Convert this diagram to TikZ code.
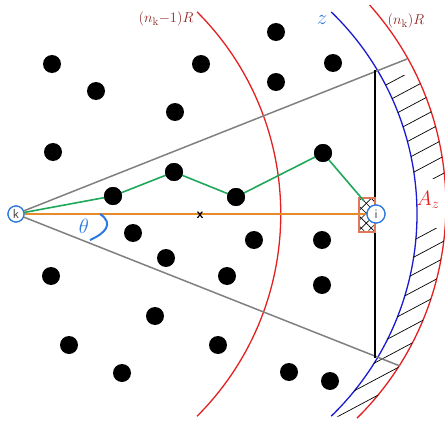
\documentclass[tikz,border=0pt]{standalone}
\usetikzlibrary{patterns.meta}
\definecolor{arcred}{HTML}{E52020}
\definecolor{arcblue}{HTML}{1A1AD0}
\definecolor{nodeblue}{HTML}{2A78E0}
\definecolor{labred}{HTML}{8E2424}
\definecolor{linkgreen}{HTML}{1EA85A}
\definecolor{linkorange}{HTML}{E88A2A}
\definecolor{boxred}{HTML}{E0765A}
\begin{document}
\begin{tikzpicture}[x=1pt,y=-1pt,
		nodept/.style = {circle, fill=black, inner sep=0pt, minimum size=18pt},
		endpt/.style = {circle, draw=nodeblue, fill=white, line width=1.2pt,
			inner sep=0pt, minimum size=16pt, font=\sffamily\fontsize{13}{14}\selectfont, text=darkgray},
		hatchline/.style = {black, line width=0.7pt}]
	\useasboundingbox (0,0) rectangle (445,431);
	% rings
	\draw[arcred, line width=1.3pt] (197,11.8) arc[start angle=-45, end angle=45, radius=286];
	\draw[arcblue, line width=1.3pt] (331.2,11.9) arc[start angle=-46, end angle=46, radius=281];
	\draw[arcred, line width=1.3pt] (369.6,5) arc[start angle=-41.8, end angle=45.3, radius=300];
	% shaded ring part
	\begin{scope}
		\clip (331.2,11.9) arc[start angle=-46, end angle=46, radius=281]
			-- (357,418.2) arc[start angle=45.3, end angle=-41.8, radius=300] -- cycle;
		\begin{scope}
			\clip (300,75) rectangle (445,178);
			\foreach \hy in {86,103,...,460}
				\draw[hatchline] (320,\hy) -- ++(-28:220);
		\end{scope}
		\begin{scope}
			\clip (300,228) rectangle (445,431);
			\foreach \hy in {86,103,...,460}
				\draw[hatchline] (320,\hy) -- ++(-28:220);
		\end{scope}
	\end{scope}
	\node[endpt] (k) at (16,214) {k};
	\coordinate (rimtop) at (407,59);
	\coordinate (rimbot) at (400,366);
	\coordinate (chordtop) at (375,70);
	\coordinate (chordbot) at (375,358);
	\draw[gray, line width=1.5pt] (k.center) -- (rimtop);
	\draw[gray, line width=1.5pt] (k.center) -- (rimbot);
	\draw[black, line width=1.6pt] (chordtop) -- (chordbot);
	% box at i
	\node[draw=boxred, line width=1.5pt, minimum width=16pt, minimum height=34pt, inner sep=0pt,
		pattern={Lines[angle=45, distance=7pt, line width=0.6pt]},
		preaction={pattern={Lines[angle=-45, distance=7pt, line width=0.6pt]}}] (box) at (367,215) {};
	\coordinate (gend) at (364,201);
	\node[endpt, minimum size=18pt] (i) at (376,214) {i};
	% agents
	\foreach \px/\py in {52/64, 96/91, 201/64, 276/32, 276/82, 333/63, 175/112, 53/152,
		133/233, 166/258, 254/240, 322/240, 51/276, 227/276, 322/285, 155/316,
		69/345, 218/345, 122/373, 289/372, 330/381}
		\node[nodept] at (\px,\py) {};
	\node[nodept] (g1) at (113,196) {};
	\node[nodept] (g2) at (174,172) {};
	\node[nodept] (g3) at (236,197) {};
	\node[nodept] (g4) at (323,153) {};
	\draw[linkorange, line width=1.6pt] (k) -- (i);
	\draw[linkgreen, line width=1.6pt] (k.center) -- (g1.center) -- (g2.center) -- (g3.center) -- (g4.center) -- (gend);
	\foreach \g in {g1,g2,g3,g4}
		\node[nodept] at (\g) {};
	\node[endpt] at (k) {k};
	\node[endpt, minimum size=18pt] at (i) {i};
	\node[font=\sffamily\bfseries\fontsize{14}{15}\selectfont, inner sep=0pt] (xlab) at (200,215) {x};
	% angle
	\coordinate (thA) at (90,240);
	\coordinate (thB) at (100,214);
	\draw[nodeblue, line width=2pt] (thA) .. controls (104,234) and (115,224) .. (thB);
	\node[nodeblue, font=\fontsize{22}{24}\selectfont, inner sep=0pt] (theta) at (84,226) {$\theta$};
	% labels
	\node[labred, font=\fontsize{15}{17}\selectfont, inner sep=0pt] (innerlab) at (166,19) {$(n_{\mathrm{k}}{-}1)R$};
	\node[labred, font=\fontsize{15}{17}\selectfont, inner sep=0pt] (outerlab) at (406,21) {$(n_{\mathrm{k}})R$};
	\node[nodeblue, font=\fontsize{22}{24}\selectfont, inner sep=0pt] (zlab) at (322,20) {$z$};
	\node[arcred, font=\fontsize{22}{24}\selectfont, inner sep=0pt] (azlab) at (428,200) {$A_z$};
\end{tikzpicture}
\end{document}
